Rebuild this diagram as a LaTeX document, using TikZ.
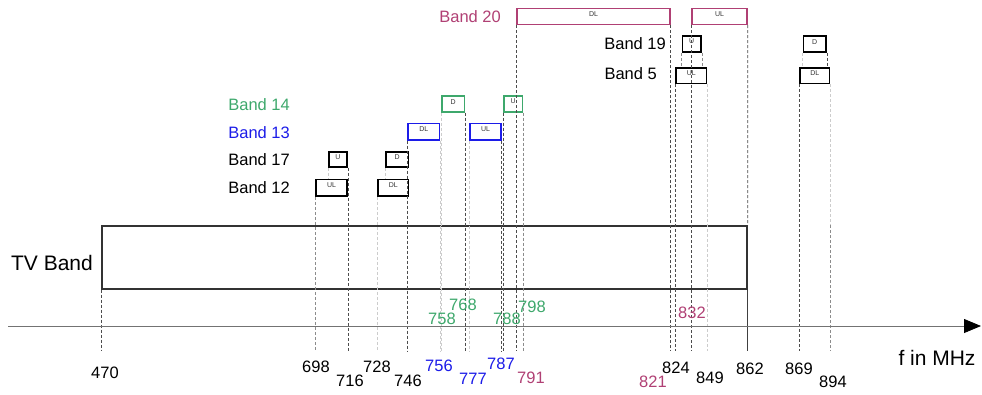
\documentclass[tikz,border=0pt]{standalone}
\usepackage{fontspec}
\setmainfont{Liberation Sans}
\usetikzlibrary{fit,arrows.meta}
\definecolor{bandmag}{RGB}{176,64,116}
\definecolor{bandgrn}{RGB}{62,168,108}
\definecolor{bandblu}{RGB}{28,28,232}

\begin{document}
\begin{tikzpicture}[x=1pt,y=-1pt,
		box/.style={draw=black, line width=1.8pt, inner sep=0pt, font=\fontsize{7}{7}\selectfont, text=black!80},
		cbox/.style={box, draw=#1, line width=1.3pt},
		dk/.style={dashed, dash pattern=on 3pt off 2pt, black!70, line width=0.8pt},
		md/.style={dk, black!45},
		lt/.style={dk, black!20},
		lbl/.style={font=\fontsize{16.5}{18}\selectfont, inner sep=0pt},
		big/.style={font=\fontsize{21}{24}\selectfont, inner sep=0pt}]
				\useasboundingbox (0,0) rectangle (982,394);
				\coordinate (base) at (0,351);
				% band boxes (uplink / downlink)
				\node [cbox=bandmag, fit={(517,8.5) (670,24.5)}] (b20dl) {DL};
				\node [cbox=bandmag, fit={(692,8.5) (747,24.5)}] (b20ul) {UL};
				\node [box, fit={(682.5,36) (701,52)}] (b19u) {U};
				\node [box, fit={(803.5,36) (826,52)}] (b19d) {D};
				\node [box, fit={(676,68) (706.5,83.5)}] (b5ul) {UL};
				\node [box, fit={(800,68) (829.5,83.5)}] (b5dl) {DL};
				\node [cbox=bandgrn, fit={(442,96) (464.5,112)}] (b14d) {D};
				\node [cbox=bandgrn, fit={(504,96) (522.5,112)}] (b14u) {U};
				\node [cbox=bandblu, fit={(408,123.5) (439.5,140)}] (b13dl) {DL};
				\node [cbox=bandblu, fit={(470,123.5) (501,140)}] (b13ul) {UL};
				\node [box, fit={(329,152) (347,167)}] (b17u) {U};
				\node [box, fit={(386,152) (408.5,167)}] (b17d) {D};
				\node [box, fit={(316,179.5) (347,196)}] (b12ul) {UL};
				\node [box, fit={(378,179.5) (408.5,196)}] (b12dl) {DL};
				\node [box, draw=black!80, line width=1.4pt, fit={(102,226) (747,289)}] (tv) {};
				% band names
				\node [lbl, text=bandmag, anchor=east] (n20) at (501,17) {Band 20};
				\node [lbl, anchor=east] (n19) at (666,44) {Band 19};
				\node [lbl, anchor=east] (n5) at (657,74) {Band 5};
				\node [lbl, text=bandgrn, anchor=east] (n14) at (290,105) {Band 14};
				\node [lbl, text=bandblu, anchor=east] (n13) at (290,132.5) {Band 13};
				\node [lbl, anchor=east] (n17) at (290,160) {Band 17};
				\node [lbl, anchor=east] (n12) at (290,188) {Band 12};
				\node [big] (ntv) at (52,263) {TV Band};
				% band edges down to the axis
				\draw [dk] (tv.south west) -- (tv.south west |- base);
				\draw [md] (b12ul.south west) -- (b12ul.south west |- base);
				\draw [lt] (b17u.south west) -- (b17u.south west |- b12ul.north);
				\draw [dk] (b17u.south east) -- (b17u.south east |- base);
				\draw [lt] (b12dl.south west) -- (b12dl.south west |- base);
				\draw [lt] (b17d.south west) -- (b17d.south west |- b12dl.north);
				\draw [dk] (b13dl.south west) -- (b13dl.south west |- base);
				\draw [lt] (b13dl.south east) -- (b13dl.south east |- base);
				\draw [lt] (b14d.south west) -- (b14d.south west |- base);
				\draw [dk] (b14d.south east) -- (b14d.south east |- base);
				\draw [lt] (b13ul.south west) -- (b13ul.south west |- base);
				\draw [dk] (b13ul.south east) -- (b13ul.south east |- base);
				\draw [dk] (b14u.south west) -- (b14u.south west |- base);
				\draw [dk] (b20dl.south west) -- (b20dl.south west |- base);
				\draw [md] (b14u.south east) -- (b14u.south east |- base);
				\draw [dk] (b20dl.south east) -- (b20dl.south east |- base);
				\draw [dk] (b5ul.south west) -- (b5ul.south west |- base);
				\draw [md] (b19u.south west) -- (b19u.south west |- b5ul.north);
				\draw [dk] (b20ul.south west) -- (b20ul.south west |- base);
				\draw [md] (b19u.south east) -- (b19u.south east |- b5ul.north);
				\draw [lt] (b5ul.south east) -- (b5ul.south east |- base);
				\draw [dk] (b20ul.south east) -- (tv.north east);
				\draw [black!75, line width=0.8pt] (tv.south east) -- (tv.south east |- base);
				\draw [dk] (b5dl.south west) -- (b5dl.south west |- base);
				\draw [lt] (b19d.south west) -- (b19d.south west |- b5dl.north);
				\draw [dk] (b19d.south east) -- (b19d.south east |- b5dl.north);
				\draw [lt] (b5dl.south east) -- (b5dl.south east |- tv.north);
				\draw [md] (b5dl.south east |- tv.north) -- (b5dl.south east |- base);
				% frequency axis
				\coordinate (ax0) at (8,326);
				\coordinate (ax1) at (981,326);
				\draw [black!55, line width=0.8pt, -{Triangle[length=17pt, width=14pt, color=black]}] (ax0) -- (ax1);
				\node [big] (unit) at (937,358) {f in MHz};
				% frequencies
				\node [lbl] (f470) at (105,373) {470};
				\node [lbl] (f698) at (316,367) {698};
				\node [lbl] (f716) at (350,381) {716};
				\node [lbl] (f728) at (377,367) {728};
				\node [lbl] (f746) at (408,381) {746};
				\node [lbl, text=bandblu] (f756) at (439,366) {756};
				\node [lbl, text=bandblu] (f777) at (473,379) {777};
				\node [lbl, text=bandblu] (f787) at (501,364) {787};
				\node [lbl, text=bandmag] (f791) at (531,378) {791};
				\node [lbl, text=bandgrn] (f758) at (442,319) {758};
				\node [lbl, text=bandgrn] (f768) at (463,305) {768};
				\node [lbl, text=bandgrn] (f788) at (507,319) {788};
				\node [lbl, text=bandgrn] (f798) at (532,307) {798};
				\node [lbl, text=bandmag] (f821) at (653,382) {821};
				\node [lbl] (f824) at (676,368) {824};
				\node [lbl, text=bandmag] (f832) at (692,313) {832};
				\node [lbl] (f849) at (710,378) {849};
				\node [lbl] (f862) at (750,369) {862};
				\node [lbl] (f869) at (799,369) {869};
				\node [lbl] (f894) at (833,382) {894};
			\end{tikzpicture}
\end{document}
